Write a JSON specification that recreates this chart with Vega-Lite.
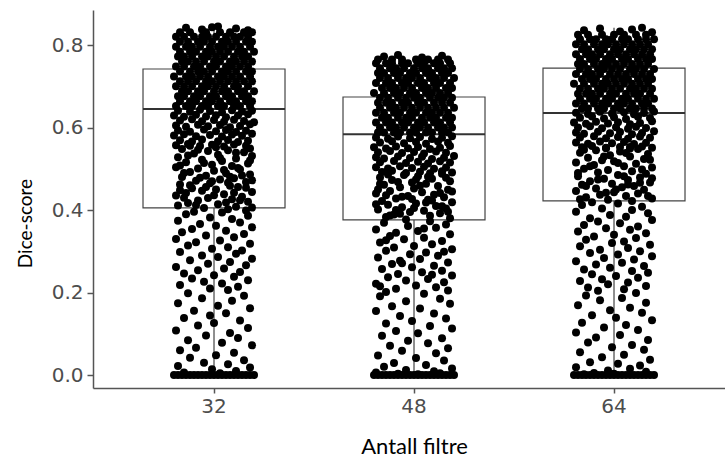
{
"$schema":"https://vega.github.io/schema/vega-lite/v6.json",
"width":632,"height":378,
"autosize":{"type":"none"},
"padding":{"left":93,"top":10,"right":0,"bottom":76},
"background":"white",
"datasets":{
"box":[
{"g":32,"lo":0,"q1":0.405,"med":0.645,"q3":0.742,"hi":0.845},
{"g":48,"lo":0,"q1":0.376,"med":0.584,"q3":0.674,"hi":0.772},
{"g":64,"lo":0,"q1":0.422,"med":0.635,"q3":0.744,"hi":0.842}
],
"pts":[
{"g":32,"y":0.652,"j":-0.19},{"g":32,"y":0.652,"j":-0.14},{"g":32,"y":0.652,"j":-0.11},{"g":32,"y":0.652,"j":-0.06},{"g":32,"y":0.652,"j":-0.03},{"g":32,"y":0.652,"j":0.02},{"g":32,"y":0.652,"j":0.05},{"g":32,"y":0.652,"j":0.10},{"g":32,"y":0.652,"j":0.13},{"g":32,"y":0.652,"j":0.18},
{"g":32,"y":0.664,"j":-0.17},{"g":32,"y":0.664,"j":-0.12},{"g":32,"y":0.664,"j":-0.09},{"g":32,"y":0.664,"j":-0.04},{"g":32,"y":0.664,"j":-0.01},{"g":32,"y":0.664,"j":0.03},{"g":32,"y":0.664,"j":0.08},{"g":32,"y":0.664,"j":0.11},{"g":32,"y":0.664,"j":0.16},{"g":32,"y":0.664,"j":0.19},
{"g":32,"y":0.676,"j":-0.18},{"g":32,"y":0.676,"j":-0.15},{"g":32,"y":0.676,"j":-0.10},{"g":32,"y":0.676,"j":-0.07},{"g":32,"y":0.676,"j":-0.02},{"g":32,"y":0.676,"j":0.01},{"g":32,"y":0.676,"j":0.06},{"g":32,"y":0.676,"j":0.09},{"g":32,"y":0.676,"j":0.14},{"g":32,"y":0.676,"j":0.17},
{"g":32,"y":0.688,"j":-0.16},{"g":32,"y":0.688,"j":-0.13},{"g":32,"y":0.688,"j":-0.08},{"g":32,"y":0.688,"j":-0.05},{"g":32,"y":0.688,"j":0},{"g":32,"y":0.688,"j":0.04},{"g":32,"y":0.688,"j":0.07},{"g":32,"y":0.688,"j":0.12},{"g":32,"y":0.688,"j":0.15},{"g":32,"y":0.688,"j":0.20},
{"g":32,"y":0.700,"j":-0.19},{"g":32,"y":0.700,"j":-0.15},{"g":32,"y":0.700,"j":-0.11},{"g":32,"y":0.700,"j":-0.06},{"g":32,"y":0.700,"j":-0.03},{"g":32,"y":0.700,"j":0.01},{"g":32,"y":0.700,"j":0.05},{"g":32,"y":0.700,"j":0.10},{"g":32,"y":0.700,"j":0.12},{"g":32,"y":0.700,"j":0.17},
{"g":32,"y":0.712,"j":-0.17},{"g":32,"y":0.712,"j":-0.13},{"g":32,"y":0.712,"j":-0.09},{"g":32,"y":0.712,"j":-0.04},{"g":32,"y":0.712,"j":-0.01},{"g":32,"y":0.712,"j":0.03},{"g":32,"y":0.712,"j":0.07},{"g":32,"y":0.712,"j":0.11},{"g":32,"y":0.712,"j":0.15},{"g":32,"y":0.712,"j":0.19},
{"g":32,"y":0.724,"j":-0.20},{"g":32,"y":0.724,"j":-0.14},{"g":32,"y":0.724,"j":-0.11},{"g":32,"y":0.724,"j":-0.07},{"g":32,"y":0.724,"j":-0.03},{"g":32,"y":0.724,"j":0.02},{"g":32,"y":0.724,"j":0.05},{"g":32,"y":0.724,"j":0.09},{"g":32,"y":0.724,"j":0.13},{"g":32,"y":0.724,"j":0.18},
{"g":32,"y":0.736,"j":-0.17},{"g":32,"y":0.736,"j":-0.12},{"g":32,"y":0.736,"j":-0.08},{"g":32,"y":0.736,"j":-0.05},{"g":32,"y":0.736,"j":-0.01},{"g":32,"y":0.736,"j":0.04},{"g":32,"y":0.736,"j":0.07},{"g":32,"y":0.736,"j":0.11},{"g":32,"y":0.736,"j":0.16},{"g":32,"y":0.736,"j":0.19},
{"g":32,"y":0.748,"j":-0.19},{"g":32,"y":0.748,"j":-0.15},{"g":32,"y":0.748,"j":-0.10},{"g":32,"y":0.748,"j":-0.07},{"g":32,"y":0.748,"j":-0.02},{"g":32,"y":0.748,"j":0.01},{"g":32,"y":0.748,"j":0.06},{"g":32,"y":0.748,"j":0.09},{"g":32,"y":0.748,"j":0.13},{"g":32,"y":0.748,"j":0.17},
{"g":32,"y":0.760,"j":-0.16},{"g":32,"y":0.760,"j":-0.13},{"g":32,"y":0.760,"j":-0.09},{"g":32,"y":0.760,"j":-0.05},{"g":32,"y":0.760,"j":0},{"g":32,"y":0.760,"j":0.03},{"g":32,"y":0.760,"j":0.08},{"g":32,"y":0.760,"j":0.11},{"g":32,"y":0.760,"j":0.15},{"g":32,"y":0.760,"j":0.19},
{"g":32,"y":0.772,"j":-0.18},{"g":32,"y":0.772,"j":-0.15},{"g":32,"y":0.772,"j":-0.11},{"g":32,"y":0.772,"j":-0.06},{"g":32,"y":0.772,"j":-0.03},{"g":32,"y":0.772,"j":0.01},{"g":32,"y":0.772,"j":0.05},{"g":32,"y":0.772,"j":0.10},{"g":32,"y":0.772,"j":0.14},{"g":32,"y":0.772,"j":0.17},
{"g":32,"y":0.784,"j":-0.17},{"g":32,"y":0.784,"j":-0.12},{"g":32,"y":0.784,"j":-0.09},{"g":32,"y":0.784,"j":-0.04},{"g":32,"y":0.784,"j":-0.01},{"g":32,"y":0.784,"j":0.03},{"g":32,"y":0.784,"j":0.07},{"g":32,"y":0.784,"j":0.12},{"g":32,"y":0.784,"j":0.15},{"g":32,"y":0.784,"j":0.20},
{"g":32,"y":0.796,"j":-0.19},{"g":32,"y":0.796,"j":-0.14},{"g":32,"y":0.796,"j":-0.11},{"g":32,"y":0.796,"j":-0.07},{"g":32,"y":0.796,"j":-0.02},{"g":32,"y":0.796,"j":0.02},{"g":32,"y":0.796,"j":0.05},{"g":32,"y":0.796,"j":0.09},{"g":32,"y":0.796,"j":0.13},{"g":32,"y":0.796,"j":0.18},
{"g":32,"y":0.808,"j":-0.17},{"g":32,"y":0.808,"j":-0.13},{"g":32,"y":0.808,"j":-0.08},{"g":32,"y":0.808,"j":-0.05},{"g":32,"y":0.808,"j":-0.01},{"g":32,"y":0.808,"j":0.04},{"g":32,"y":0.808,"j":0.07},{"g":32,"y":0.808,"j":0.11},{"g":32,"y":0.808,"j":0.16},{"g":32,"y":0.808,"j":0.19},
{"g":32,"y":0.820,"j":-0.19},{"g":32,"y":0.820,"j":-0.15},{"g":32,"y":0.820,"j":-0.10},{"g":32,"y":0.820,"j":-0.06},{"g":32,"y":0.820,"j":-0.03},{"g":32,"y":0.820,"j":0.01},{"g":32,"y":0.820,"j":0.06},{"g":32,"y":0.820,"j":0.10},{"g":32,"y":0.820,"j":0.13},{"g":32,"y":0.820,"j":0.17},
{"g":32,"y":0.831,"j":-0.17},{"g":32,"y":0.831,"j":-0.12},{"g":32,"y":0.831,"j":-0.04},{"g":32,"y":0.831,"j":0.03},{"g":32,"y":0.831,"j":0.08},{"g":32,"y":0.831,"j":0.15},{"g":32,"y":0.831,"j":0.19},
{"g":32,"y":0.842,"j":-0.14},{"g":32,"y":0.838,"j":-0.06},{"g":32,"y":0.845,"j":0.02},{"g":32,"y":0.840,"j":0.11},{"g":32,"y":0.836,"j":0.17},{"g":32,"y":0.843,"j":-0.01},
{"g":32,"y":0.641,"j":-0.18},{"g":32,"y":0.638,"j":-0.12},{"g":32,"y":0.643,"j":-0.07},{"g":32,"y":0.640,"j":-0.02},{"g":32,"y":0.637,"j":0.04},{"g":32,"y":0.642,"j":0.09},{"g":32,"y":0.639,"j":0.14},{"g":32,"y":0.641,"j":0.19},
{"g":32,"y":0.629,"j":-0.20},{"g":32,"y":0.626,"j":-0.15},{"g":32,"y":0.631,"j":-0.09},{"g":32,"y":0.627,"j":-0.04},{"g":32,"y":0.630,"j":0.01},{"g":32,"y":0.625,"j":0.06},{"g":32,"y":0.629,"j":0.12},{"g":32,"y":0.632,"j":0.17},
{"g":32,"y":0.617,"j":-0.17},{"g":32,"y":0.620,"j":-0.11},{"g":32,"y":0.615,"j":-0.06},{"g":32,"y":0.618,"j":0},{"g":32,"y":0.614,"j":0.05},{"g":32,"y":0.619,"j":0.10},{"g":32,"y":0.616,"j":0.15},{"g":32,"y":0.613,"j":0.20},
{"g":32,"y":0.605,"j":-0.19},{"g":32,"y":0.602,"j":-0.14},{"g":32,"y":0.607,"j":-0.08},{"g":32,"y":0.603,"j":-0.03},{"g":32,"y":0.606,"j":0.03},{"g":32,"y":0.601,"j":0.08},{"g":32,"y":0.604,"j":0.13},{"g":32,"y":0.608,"j":0.18},
{"g":32,"y":0.593,"j":-0.18},{"g":32,"y":0.590,"j":-0.12},{"g":32,"y":0.595,"j":-0.05},{"g":32,"y":0.591,"j":0.01},{"g":32,"y":0.594,"j":0.06},{"g":32,"y":0.589,"j":0.11},{"g":32,"y":0.592,"j":0.16},
{"g":32,"y":0.581,"j":-0.20},{"g":32,"y":0.584,"j":-0.15},{"g":32,"y":0.579,"j":-0.09},{"g":32,"y":0.582,"j":-0.02},{"g":32,"y":0.578,"j":0.04},{"g":32,"y":0.583,"j":0.09},{"g":32,"y":0.580,"j":0.14},{"g":32,"y":0.585,"j":0.19},
{"g":32,"y":0.569,"j":-0.17},{"g":32,"y":0.566,"j":-0.11},{"g":32,"y":0.571,"j":-0.06},{"g":32,"y":0.567,"j":0.02},{"g":32,"y":0.570,"j":0.07},{"g":32,"y":0.565,"j":0.12},{"g":32,"y":0.568,"j":0.17},
{"g":32,"y":0.557,"j":-0.19},{"g":32,"y":0.560,"j":-0.13},{"g":32,"y":0.555,"j":-0.07},{"g":32,"y":0.558,"j":-0.01},{"g":32,"y":0.554,"j":0.05},{"g":32,"y":0.559,"j":0.10},{"g":32,"y":0.556,"j":0.16},
{"g":32,"y":0.548,"j":-0.16},{"g":32,"y":0.545,"j":0.07},{"g":32,"y":0.543,"j":-0.03},{"g":32,"y":0.540,"j":0.15},{"g":32,"y":0.537,"j":-0.10},{"g":32,"y":0.534,"j":0.02},{"g":32,"y":0.531,"j":0.19},{"g":32,"y":0.528,"j":-0.18},{"g":32,"y":0.525,"j":0.11},{"g":32,"y":0.522,"j":-0.06},
{"g":32,"y":0.519,"j":0.04},{"g":32,"y":0.516,"j":-0.14},{"g":32,"y":0.513,"j":0.17},{"g":32,"y":0.510,"j":-0.01},{"g":32,"y":0.507,"j":0.09},{"g":32,"y":0.504,"j":-0.19},{"g":32,"y":0.501,"j":-0.08},{"g":32,"y":0.498,"j":0.13},{"g":32,"y":0.495,"j":0},{"g":32,"y":0.492,"j":-0.12},
{"g":32,"y":0.489,"j":0.06},{"g":32,"y":0.486,"j":0.18},{"g":32,"y":0.483,"j":-0.04},{"g":32,"y":0.480,"j":-0.16},{"g":32,"y":0.477,"j":0.10},{"g":32,"y":0.474,"j":0.03},{"g":32,"y":0.471,"j":-0.09},{"g":32,"y":0.468,"j":0.16},{"g":32,"y":0.465,"j":-0.02},{"g":32,"y":0.462,"j":-0.17},
{"g":32,"y":0.459,"j":0.08},{"g":32,"y":0.456,"j":0.12},{"g":32,"y":0.453,"j":-0.11},{"g":32,"y":0.450,"j":0.01},{"g":32,"y":0.447,"j":-0.06},{"g":32,"y":0.444,"j":0.19},{"g":32,"y":0.441,"j":-0.14},{"g":32,"y":0.438,"j":0.05},{"g":32,"y":0.435,"j":-0.19},{"g":32,"y":0.432,"j":0.14},
{"g":32,"y":0.429,"j":-0.03},{"g":32,"y":0.426,"j":0.09},{"g":32,"y":0.423,"j":-0.08},{"g":32,"y":0.420,"j":0.17},{"g":32,"y":0.417,"j":-0.13},{"g":32,"y":0.414,"j":0.02},{"g":32,"y":0.411,"j":-0.18},{"g":32,"y":0.408,"j":0.11},{"g":32,"y":0.405,"j":-0.05},{"g":32,"y":0.402,"j":0.07},
{"g":32,"y":0.399,"j":0.16},{"g":32,"y":0.396,"j":-0.10},
{"g":32,"y":0.546,"j":-0.08},{"g":32,"y":0.539,"j":0.11},{"g":32,"y":0.532,"j":-0.13},{"g":32,"y":0.526,"j":0.03},{"g":32,"y":0.520,"j":0.18},{"g":32,"y":0.514,"j":-0.05},{"g":32,"y":0.508,"j":-0.17},{"g":32,"y":0.502,"j":0.12},{"g":32,"y":0.497,"j":0.05},{"g":32,"y":0.490,"j":-0.15},
{"g":32,"y":0.484,"j":0.14},{"g":32,"y":0.478,"j":-0.07},{"g":32,"y":0.472,"j":0.19},{"g":32,"y":0.466,"j":0.07},{"g":32,"y":0.460,"j":-0.12},{"g":32,"y":0.454,"j":0.16},{"g":32,"y":0.448,"j":-0.17},{"g":32,"y":0.442,"j":0.10},{"g":32,"y":0.436,"j":0},{"g":32,"y":0.430,"j":-0.15},
{"g":32,"y":0.424,"j":0.13},{"g":32,"y":0.418,"j":0.06},{"g":32,"y":0.412,"j":-0.09},{"g":32,"y":0.406,"j":0.19},{"g":32,"y":0.552,"j":0.01},{"g":32,"y":0.556,"j":-0.12},{"g":32,"y":0.549,"j":0.18},{"g":32,"y":0.470,"j":-0.01},{"g":32,"y":0.481,"j":0.08},{"g":32,"y":0.456,"j":-0.04},
{"g":32,"y":0.394,"j":0.04},{"g":32,"y":0.390,"j":-0.14},{"g":32,"y":0.386,"j":0.17},{"g":32,"y":0.382,"j":-0.02},{"g":32,"y":0.378,"j":0.09},{"g":32,"y":0.374,"j":-0.18},{"g":32,"y":0.370,"j":0.13},{"g":32,"y":0.366,"j":-0.07},{"g":32,"y":0.362,"j":0.01},{"g":32,"y":0.358,"j":0.19},
{"g":32,"y":0.354,"j":-0.11},{"g":32,"y":0.350,"j":0.06},{"g":32,"y":0.346,"j":-0.16},{"g":32,"y":0.342,"j":0.15},{"g":32,"y":0.338,"j":-0.04},{"g":32,"y":0.334,"j":0.10},{"g":32,"y":0.330,"j":-0.19},{"g":32,"y":0.326,"j":0.03},{"g":32,"y":0.322,"j":-0.09},{"g":32,"y":0.318,"j":0.18},
{"g":32,"y":0.314,"j":-0.13},{"g":32,"y":0.310,"j":0.07},{"g":32,"y":0.306,"j":-0.01},{"g":32,"y":0.302,"j":0.14},{"g":32,"y":0.298,"j":-0.17},{"g":32,"y":0.294,"j":0.11},{"g":32,"y":0.290,"j":-0.06},{"g":32,"y":0.286,"j":0.02},{"g":32,"y":0.282,"j":0.19},{"g":32,"y":0.278,"j":-0.12},
{"g":32,"y":0.274,"j":0.08},{"g":32,"y":0.270,"j":-0.03},{"g":32,"y":0.266,"j":0.16},{"g":32,"y":0.262,"j":-0.19},{"g":32,"y":0.258,"j":0.05},{"g":32,"y":0.254,"j":-0.08},{"g":32,"y":0.250,"j":0.13},{"g":32,"y":0.246,"j":-0.15},{"g":32,"y":0.242,"j":0},{"g":32,"y":0.238,"j":0.10},
{"g":32,"y":0.234,"j":-0.11},{"g":32,"y":0.230,"j":0.17},{"g":32,"y":0.226,"j":-0.05},{"g":32,"y":0.222,"j":0.04},{"g":32,"y":0.218,"j":-0.17},{"g":32,"y":0.214,"j":0.12},{"g":32,"y":0.210,"j":-0.02},{"g":32,"y":0.206,"j":0.07},
{"g":32,"y":0.198,"j":-0.13},{"g":32,"y":0.192,"j":0.15},{"g":32,"y":0.186,"j":-0.06},{"g":32,"y":0.180,"j":0.09},{"g":32,"y":0.174,"j":-0.18},{"g":32,"y":0.168,"j":0.02},{"g":32,"y":0.162,"j":0.18},{"g":32,"y":0.156,"j":-0.10},{"g":32,"y":0.150,"j":0.06},{"g":32,"y":0.144,"j":-0.02},
{"g":32,"y":0.138,"j":-0.15},{"g":32,"y":0.132,"j":0.13},{"g":32,"y":0.126,"j":0},{"g":32,"y":0.120,"j":-0.08},{"g":32,"y":0.114,"j":0.17},{"g":32,"y":0.108,"j":-0.19},{"g":32,"y":0.102,"j":0.08},{"g":32,"y":0.096,"j":-0.04},{"g":32,"y":0.090,"j":0.12},{"g":32,"y":0.084,"j":-0.13},
{"g":32,"y":0.078,"j":0.04},{"g":32,"y":0.072,"j":0.19},{"g":32,"y":0.066,"j":-0.09},{"g":32,"y":0.060,"j":-0.17},{"g":32,"y":0.054,"j":0.10},{"g":32,"y":0.048,"j":0.01},{"g":32,"y":0.042,"j":-0.12},{"g":32,"y":0.036,"j":0.15},{"g":32,"y":0.030,"j":-0.05},{"g":32,"y":0.026,"j":0.07},
{"g":32,"y":0.022,"j":-0.18},{"g":32,"y":0.018,"j":0.18},{"g":32,"y":0.014,"j":-0.01},{"g":32,"y":0.010,"j":0.11},{"g":32,"y":0.006,"j":-0.15},{"g":32,"y":0.004,"j":0.03},
{"g":32,"y":0,"j":-0.20},{"g":32,"y":0,"j":-0.18},{"g":32,"y":0,"j":-0.16},{"g":32,"y":0,"j":-0.14},{"g":32,"y":0,"j":-0.12},{"g":32,"y":0,"j":-0.10},{"g":32,"y":0,"j":-0.08},{"g":32,"y":0,"j":-0.06},{"g":32,"y":0,"j":-0.04},{"g":32,"y":0,"j":-0.02},{"g":32,"y":0,"j":0},
{"g":32,"y":0,"j":0.02},{"g":32,"y":0,"j":0.04},{"g":32,"y":0,"j":0.06},{"g":32,"y":0,"j":0.08},{"g":32,"y":0,"j":0.10},{"g":32,"y":0,"j":0.12},{"g":32,"y":0,"j":0.14},{"g":32,"y":0,"j":0.16},{"g":32,"y":0,"j":0.18},{"g":32,"y":0,"j":0.20},

{"g":48,"y":0.588,"j":-0.18},{"g":48,"y":0.588,"j":-0.15},{"g":48,"y":0.588,"j":-0.10},{"g":48,"y":0.588,"j":-0.07},{"g":48,"y":0.588,"j":-0.02},{"g":48,"y":0.588,"j":0.01},{"g":48,"y":0.588,"j":0.06},{"g":48,"y":0.588,"j":0.09},{"g":48,"y":0.588,"j":0.14},{"g":48,"y":0.588,"j":0.17},
{"g":48,"y":0.600,"j":-0.17},{"g":48,"y":0.600,"j":-0.12},{"g":48,"y":0.600,"j":-0.09},{"g":48,"y":0.600,"j":-0.05},{"g":48,"y":0.600,"j":0},{"g":48,"y":0.600,"j":0.03},{"g":48,"y":0.600,"j":0.07},{"g":48,"y":0.600,"j":0.12},{"g":48,"y":0.600,"j":0.15},{"g":48,"y":0.600,"j":0.19},
{"g":48,"y":0.612,"j":-0.19},{"g":48,"y":0.612,"j":-0.14},{"g":48,"y":0.612,"j":-0.11},{"g":48,"y":0.612,"j":-0.06},{"g":48,"y":0.612,"j":-0.03},{"g":48,"y":0.612,"j":0.02},{"g":48,"y":0.612,"j":0.05},{"g":48,"y":0.612,"j":0.10},{"g":48,"y":0.612,"j":0.13},{"g":48,"y":0.612,"j":0.18},
{"g":48,"y":0.624,"j":-0.16},{"g":48,"y":0.624,"j":-0.13},{"g":48,"y":0.624,"j":-0.08},{"g":48,"y":0.624,"j":-0.04},{"g":48,"y":0.624,"j":-0.01},{"g":48,"y":0.624,"j":0.04},{"g":48,"y":0.624,"j":0.08},{"g":48,"y":0.624,"j":0.11},{"g":48,"y":0.624,"j":0.16},{"g":48,"y":0.624,"j":0.19},
{"g":48,"y":0.636,"j":-0.19},{"g":48,"y":0.636,"j":-0.15},{"g":48,"y":0.636,"j":-0.10},{"g":48,"y":0.636,"j":-0.07},{"g":48,"y":0.636,"j":-0.02},{"g":48,"y":0.636,"j":0.01},{"g":48,"y":0.636,"j":0.06},{"g":48,"y":0.636,"j":0.09},{"g":48,"y":0.636,"j":0.13},{"g":48,"y":0.636,"j":0.17},
{"g":48,"y":0.648,"j":-0.17},{"g":48,"y":0.648,"j":-0.12},{"g":48,"y":0.648,"j":-0.09},{"g":48,"y":0.648,"j":-0.05},{"g":48,"y":0.648,"j":-0.01},{"g":48,"y":0.648,"j":0.03},{"g":48,"y":0.648,"j":0.07},{"g":48,"y":0.648,"j":0.11},{"g":48,"y":0.648,"j":0.15},{"g":48,"y":0.648,"j":0.20},
{"g":48,"y":0.660,"j":-0.18},{"g":48,"y":0.660,"j":-0.14},{"g":48,"y":0.660,"j":-0.11},{"g":48,"y":0.660,"j":-0.06},{"g":48,"y":0.660,"j":-0.03},{"g":48,"y":0.660,"j":0.02},{"g":48,"y":0.660,"j":0.05},{"g":48,"y":0.660,"j":0.10},{"g":48,"y":0.660,"j":0.14},{"g":48,"y":0.660,"j":0.18},
{"g":48,"y":0.672,"j":-0.17},{"g":48,"y":0.672,"j":-0.13},{"g":48,"y":0.672,"j":-0.08},{"g":48,"y":0.672,"j":-0.04},{"g":48,"y":0.672,"j":0},{"g":48,"y":0.672,"j":0.03},{"g":48,"y":0.672,"j":0.08},{"g":48,"y":0.672,"j":0.12},{"g":48,"y":0.672,"j":0.15},{"g":48,"y":0.672,"j":0.19},
{"g":48,"y":0.684,"j":-0.20},{"g":48,"y":0.684,"j":-0.15},{"g":48,"y":0.684,"j":-0.10},{"g":48,"y":0.684,"j":-0.07},{"g":48,"y":0.684,"j":-0.02},{"g":48,"y":0.684,"j":0.01},{"g":48,"y":0.684,"j":0.06},{"g":48,"y":0.684,"j":0.09},{"g":48,"y":0.684,"j":0.13},{"g":48,"y":0.684,"j":0.17},
{"g":48,"y":0.696,"j":-0.16},{"g":48,"y":0.696,"j":-0.12},{"g":48,"y":0.696,"j":-0.09},{"g":48,"y":0.696,"j":-0.05},{"g":48,"y":0.696,"j":-0.01},{"g":48,"y":0.696,"j":0.04},{"g":48,"y":0.696,"j":0.07},{"g":48,"y":0.696,"j":0.11},{"g":48,"y":0.696,"j":0.16},{"g":48,"y":0.696,"j":0.19},
{"g":48,"y":0.708,"j":-0.19},{"g":48,"y":0.708,"j":-0.14},{"g":48,"y":0.708,"j":-0.11},{"g":48,"y":0.708,"j":-0.06},{"g":48,"y":0.708,"j":-0.03},{"g":48,"y":0.708,"j":0.02},{"g":48,"y":0.708,"j":0.05},{"g":48,"y":0.708,"j":0.10},{"g":48,"y":0.708,"j":0.13},{"g":48,"y":0.708,"j":0.18},
{"g":48,"y":0.720,"j":-0.17},{"g":48,"y":0.720,"j":-0.13},{"g":48,"y":0.720,"j":-0.08},{"g":48,"y":0.720,"j":-0.04},{"g":48,"y":0.720,"j":-0.01},{"g":48,"y":0.720,"j":0.03},{"g":48,"y":0.720,"j":0.08},{"g":48,"y":0.720,"j":0.11},{"g":48,"y":0.720,"j":0.15},{"g":48,"y":0.720,"j":0.20},
{"g":48,"y":0.732,"j":-0.18},{"g":48,"y":0.732,"j":-0.15},{"g":48,"y":0.732,"j":-0.10},{"g":48,"y":0.732,"j":-0.07},{"g":48,"y":0.732,"j":-0.02},{"g":48,"y":0.732,"j":0.01},{"g":48,"y":0.732,"j":0.06},{"g":48,"y":0.732,"j":0.09},{"g":48,"y":0.732,"j":0.14},{"g":48,"y":0.732,"j":0.17},
{"g":48,"y":0.744,"j":-0.17},{"g":48,"y":0.744,"j":-0.12},{"g":48,"y":0.744,"j":-0.09},{"g":48,"y":0.744,"j":-0.05},{"g":48,"y":0.744,"j":0},{"g":48,"y":0.744,"j":0.04},{"g":48,"y":0.744,"j":0.07},{"g":48,"y":0.744,"j":0.12},{"g":48,"y":0.744,"j":0.15},{"g":48,"y":0.744,"j":0.19},
{"g":48,"y":0.756,"j":-0.19},{"g":48,"y":0.756,"j":-0.14},{"g":48,"y":0.756,"j":-0.11},{"g":48,"y":0.756,"j":-0.06},{"g":48,"y":0.756,"j":-0.03},{"g":48,"y":0.756,"j":0.02},{"g":48,"y":0.756,"j":0.05},{"g":48,"y":0.756,"j":0.10},{"g":48,"y":0.756,"j":0.13},{"g":48,"y":0.756,"j":0.18},
{"g":48,"y":0.765,"j":-0.18},{"g":48,"y":0.765,"j":-0.11},{"g":48,"y":0.765,"j":-0.06},{"g":48,"y":0.765,"j":0.01},{"g":48,"y":0.765,"j":0.07},{"g":48,"y":0.765,"j":0.12},{"g":48,"y":0.765,"j":0.17},
{"g":48,"y":0.772,"j":-0.15},{"g":48,"y":0.776,"j":-0.08},{"g":48,"y":0.770,"j":0.04},{"g":48,"y":0.774,"j":0.14},
{"g":48,"y":0.576,"j":-0.19},{"g":48,"y":0.573,"j":-0.13},{"g":48,"y":0.578,"j":-0.08},{"g":48,"y":0.574,"j":-0.02},{"g":48,"y":0.577,"j":0.03},{"g":48,"y":0.572,"j":0.09},{"g":48,"y":0.575,"j":0.14},{"g":48,"y":0.579,"j":0.19},
{"g":48,"y":0.564,"j":-0.17},{"g":48,"y":0.567,"j":-0.11},{"g":48,"y":0.562,"j":-0.05},{"g":48,"y":0.565,"j":0.01},{"g":48,"y":0.561,"j":0.06},{"g":48,"y":0.566,"j":0.12},{"g":48,"y":0.563,"j":0.17},
{"g":48,"y":0.552,"j":-0.20},{"g":48,"y":0.549,"j":-0.14},{"g":48,"y":0.554,"j":-0.09},{"g":48,"y":0.550,"j":-0.03},{"g":48,"y":0.553,"j":0.02},{"g":48,"y":0.548,"j":0.08},{"g":48,"y":0.551,"j":0.13},{"g":48,"y":0.555,"j":0.18},
{"g":48,"y":0.540,"j":-0.18},{"g":48,"y":0.543,"j":-0.12},{"g":48,"y":0.538,"j":-0.06},{"g":48,"y":0.541,"j":0},{"g":48,"y":0.537,"j":0.05},{"g":48,"y":0.542,"j":0.11},{"g":48,"y":0.539,"j":0.16},
{"g":48,"y":0.528,"j":-0.19},{"g":48,"y":0.525,"j":-0.15},{"g":48,"y":0.530,"j":-0.08},{"g":48,"y":0.526,"j":-0.02},{"g":48,"y":0.529,"j":0.04},{"g":48,"y":0.524,"j":0.09},{"g":48,"y":0.527,"j":0.15},{"g":48,"y":0.531,"j":0.20},
{"g":48,"y":0.516,"j":-0.17},{"g":48,"y":0.519,"j":-0.10},{"g":48,"y":0.514,"j":-0.04},{"g":48,"y":0.517,"j":0.02},{"g":48,"y":0.513,"j":0.07},{"g":48,"y":0.518,"j":0.13},{"g":48,"y":0.515,"j":0.18},
{"g":48,"y":0.504,"j":-0.19},{"g":48,"y":0.501,"j":-0.13},{"g":48,"y":0.506,"j":-0.07},{"g":48,"y":0.502,"j":-0.01},{"g":48,"y":0.505,"j":0.05},{"g":48,"y":0.500,"j":0.10},{"g":48,"y":0.503,"j":0.16},
{"g":48,"y":0.492,"j":-0.16},{"g":48,"y":0.495,"j":-0.11},{"g":48,"y":0.490,"j":-0.04},{"g":48,"y":0.493,"j":0.03},{"g":48,"y":0.489,"j":0.08},{"g":48,"y":0.494,"j":0.14},{"g":48,"y":0.491,"j":0.19},
{"g":48,"y":0.488,"j":0.14},{"g":48,"y":0.485,"j":-0.05},{"g":48,"y":0.482,"j":0.02},{"g":48,"y":0.479,"j":-0.17},{"g":48,"y":0.476,"j":0.09},{"g":48,"y":0.473,"j":-0.11},{"g":48,"y":0.470,"j":0.18},{"g":48,"y":0.467,"j":-0.01},{"g":48,"y":0.464,"j":0.06},{"g":48,"y":0.461,"j":-0.15},
{"g":48,"y":0.458,"j":0.12},{"g":48,"y":0.455,"j":-0.07},{"g":48,"y":0.452,"j":0},{"g":48,"y":0.449,"j":0.17},{"g":48,"y":0.446,"j":-0.12},{"g":48,"y":0.443,"j":0.04},{"g":48,"y":0.440,"j":-0.19},{"g":48,"y":0.437,"j":0.10},{"g":48,"y":0.434,"j":-0.03},{"g":48,"y":0.431,"j":0.15},
{"g":48,"y":0.428,"j":-0.09},{"g":48,"y":0.425,"j":0.07},{"g":48,"y":0.422,"j":-0.16},{"g":48,"y":0.419,"j":0.19},{"g":48,"y":0.416,"j":0.01},{"g":48,"y":0.413,"j":-0.13},{"g":48,"y":0.410,"j":0.11},{"g":48,"y":0.407,"j":-0.06},{"g":48,"y":0.404,"j":0.16},{"g":48,"y":0.401,"j":-0.18},
{"g":48,"y":0.398,"j":0.05},{"g":48,"y":0.395,"j":-0.02},{"g":48,"y":0.392,"j":0.13},{"g":48,"y":0.389,"j":-0.10},{"g":48,"y":0.386,"j":0.08},{"g":48,"y":0.383,"j":-0.14},{"g":48,"y":0.380,"j":0.18},{"g":48,"y":0.377,"j":-0.04},{"g":48,"y":0.486,"j":-0.13},{"g":48,"y":0.478,"j":0.16},
{"g":48,"y":0.468,"j":-0.08},{"g":48,"y":0.459,"j":0.03},{"g":48,"y":0.450,"j":-0.18},{"g":48,"y":0.441,"j":0.13},{"g":48,"y":0.432,"j":-0.06},{"g":48,"y":0.423,"j":0.09},{"g":48,"y":0.414,"j":-0.19},{"g":48,"y":0.405,"j":0},{"g":48,"y":0.396,"j":0.17},{"g":48,"y":0.387,"j":-0.12},
{"g":48,"y":0.481,"j":0.07},{"g":48,"y":0.463,"j":-0.17},{"g":48,"y":0.445,"j":0.19},{"g":48,"y":0.427,"j":-0.01},{"g":48,"y":0.409,"j":0.14},{"g":48,"y":0.391,"j":-0.07},{"g":48,"y":0.474,"j":0.01},{"g":48,"y":0.436,"j":-0.14},{"g":48,"y":0.418,"j":0.06},{"g":48,"y":0.400,"j":-0.09},
{"g":48,"y":0.373,"j":0.08},{"g":48,"y":0.369,"j":-0.15},{"g":48,"y":0.365,"j":0.16},{"g":48,"y":0.361,"j":-0.03},{"g":48,"y":0.357,"j":0.11},{"g":48,"y":0.353,"j":-0.19},{"g":48,"y":0.349,"j":0.02},{"g":48,"y":0.345,"j":-0.09},{"g":48,"y":0.341,"j":0.18},{"g":48,"y":0.337,"j":-0.12},
{"g":48,"y":0.333,"j":0.05},{"g":48,"y":0.329,"j":-0.05},{"g":48,"y":0.325,"j":0.14},{"g":48,"y":0.321,"j":-0.17},{"g":48,"y":0.317,"j":0.09},{"g":48,"y":0.313,"j":0},{"g":48,"y":0.309,"j":-0.10},{"g":48,"y":0.305,"j":0.19},{"g":48,"y":0.301,"j":-0.14},{"g":48,"y":0.297,"j":0.06},
{"g":48,"y":0.293,"j":-0.02},{"g":48,"y":0.289,"j":0.12},{"g":48,"y":0.285,"j":-0.18},{"g":48,"y":0.281,"j":0.03},{"g":48,"y":0.277,"j":-0.07},{"g":48,"y":0.273,"j":0.17},{"g":48,"y":0.269,"j":-0.11},{"g":48,"y":0.265,"j":0.10},{"g":48,"y":0.261,"j":-0.01},{"g":48,"y":0.257,"j":-0.16},
{"g":48,"y":0.253,"j":0.14},{"g":48,"y":0.249,"j":0.04},{"g":48,"y":0.245,"j":-0.08},{"g":48,"y":0.241,"j":0.19},{"g":48,"y":0.237,"j":-0.13},{"g":48,"y":0.233,"j":0.07},{"g":48,"y":0.229,"j":-0.04},{"g":48,"y":0.225,"j":0.15},{"g":48,"y":0.221,"j":-0.19},{"g":48,"y":0.217,"j":0.01},
{"g":48,"y":0.213,"j":0.11},{"g":48,"y":0.209,"j":-0.09},{"g":48,"y":0.205,"j":0.17},{"g":48,"y":0.201,"j":-0.14},{"g":48,"y":0.355,"j":0.05},{"g":48,"y":0.327,"j":-0.14},{"g":48,"y":0.299,"j":0.15},{"g":48,"y":0.271,"j":-0.06},{"g":48,"y":0.243,"j":0.09},{"g":48,"y":0.215,"j":-0.17},
{"g":48,"y":0.197,"j":0.05},{"g":48,"y":0.191,"j":-0.17},{"g":48,"y":0.185,"j":0.13},{"g":48,"y":0.179,"j":-0.04},{"g":48,"y":0.173,"j":0.18},{"g":48,"y":0.167,"j":-0.11},{"g":48,"y":0.161,"j":0.03},{"g":48,"y":0.155,"j":-0.19},{"g":48,"y":0.149,"j":0.10},{"g":48,"y":0.143,"j":-0.07},
{"g":48,"y":0.137,"j":0.16},{"g":48,"y":0.131,"j":-0.01},{"g":48,"y":0.125,"j":-0.14},{"g":48,"y":0.119,"j":0.08},{"g":48,"y":0.113,"j":0.19},{"g":48,"y":0.107,"j":-0.09},{"g":48,"y":0.101,"j":0.02},{"g":48,"y":0.095,"j":-0.16},{"g":48,"y":0.089,"j":0.14},{"g":48,"y":0.083,"j":-0.03},
{"g":48,"y":0.077,"j":0.07},{"g":48,"y":0.071,"j":-0.12},{"g":48,"y":0.065,"j":0.17},{"g":48,"y":0.059,"j":-0.06},{"g":48,"y":0.053,"j":0.11},{"g":48,"y":0.047,"j":-0.18},{"g":48,"y":0.041,"j":0.01},{"g":48,"y":0.035,"j":0.15},{"g":48,"y":0.029,"j":-0.10},{"g":48,"y":0.024,"j":0.06},
{"g":48,"y":0.020,"j":-0.15},{"g":48,"y":0.016,"j":0.19},{"g":48,"y":0.012,"j":-0.04},{"g":48,"y":0.009,"j":0.10},{"g":48,"y":0.006,"j":-0.19},{"g":48,"y":0.004,"j":0.13},{"g":48,"y":0.003,"j":-0.08},{"g":48,"y":0.002,"j":0.02},
{"g":48,"y":0,"j":-0.20},{"g":48,"y":0,"j":-0.18},{"g":48,"y":0,"j":-0.16},{"g":48,"y":0,"j":-0.14},{"g":48,"y":0,"j":-0.12},{"g":48,"y":0,"j":-0.10},{"g":48,"y":0,"j":-0.08},{"g":48,"y":0,"j":-0.06},{"g":48,"y":0,"j":-0.04},{"g":48,"y":0,"j":-0.02},{"g":48,"y":0,"j":0},
{"g":48,"y":0,"j":0.02},{"g":48,"y":0,"j":0.04},{"g":48,"y":0,"j":0.06},{"g":48,"y":0,"j":0.08},{"g":48,"y":0,"j":0.10},{"g":48,"y":0,"j":0.12},{"g":48,"y":0,"j":0.14},{"g":48,"y":0,"j":0.16},{"g":48,"y":0,"j":0.18},{"g":48,"y":0,"j":0.20},

{"g":64,"y":0.646,"j":-0.16},{"g":64,"y":0.646,"j":-0.13},{"g":64,"y":0.646,"j":-0.08},{"g":64,"y":0.646,"j":-0.05},{"g":64,"y":0.646,"j":0},{"g":64,"y":0.646,"j":0.03},{"g":64,"y":0.646,"j":0.08},{"g":64,"y":0.646,"j":0.11},{"g":64,"y":0.646,"j":0.15},{"g":64,"y":0.646,"j":0.19},
{"g":64,"y":0.658,"j":-0.19},{"g":64,"y":0.658,"j":-0.15},{"g":64,"y":0.658,"j":-0.10},{"g":64,"y":0.658,"j":-0.06},{"g":64,"y":0.658,"j":-0.03},{"g":64,"y":0.658,"j":0.02},{"g":64,"y":0.658,"j":0.05},{"g":64,"y":0.658,"j":0.09},{"g":64,"y":0.658,"j":0.14},{"g":64,"y":0.658,"j":0.17},
{"g":64,"y":0.670,"j":-0.17},{"g":64,"y":0.670,"j":-0.12},{"g":64,"y":0.670,"j":-0.09},{"g":64,"y":0.670,"j":-0.04},{"g":64,"y":0.670,"j":-0.01},{"g":64,"y":0.670,"j":0.04},{"g":64,"y":0.670,"j":0.07},{"g":64,"y":0.670,"j":0.12},{"g":64,"y":0.670,"j":0.16},{"g":64,"y":0.670,"j":0.20},
{"g":64,"y":0.682,"j":-0.18},{"g":64,"y":0.682,"j":-0.14},{"g":64,"y":0.682,"j":-0.11},{"g":64,"y":0.682,"j":-0.07},{"g":64,"y":0.682,"j":-0.02},{"g":64,"y":0.682,"j":0.01},{"g":64,"y":0.682,"j":0.06},{"g":64,"y":0.682,"j":0.10},{"g":64,"y":0.682,"j":0.13},{"g":64,"y":0.682,"j":0.18},
{"g":64,"y":0.694,"j":-0.17},{"g":64,"y":0.694,"j":-0.13},{"g":64,"y":0.694,"j":-0.08},{"g":64,"y":0.694,"j":-0.05},{"g":64,"y":0.694,"j":-0.01},{"g":64,"y":0.694,"j":0.03},{"g":64,"y":0.694,"j":0.08},{"g":64,"y":0.694,"j":0.11},{"g":64,"y":0.694,"j":0.15},{"g":64,"y":0.694,"j":0.19},
{"g":64,"y":0.706,"j":-0.20},{"g":64,"y":0.706,"j":-0.15},{"g":64,"y":0.706,"j":-0.10},{"g":64,"y":0.706,"j":-0.06},{"g":64,"y":0.706,"j":-0.03},{"g":64,"y":0.706,"j":0.01},{"g":64,"y":0.706,"j":0.05},{"g":64,"y":0.706,"j":0.09},{"g":64,"y":0.706,"j":0.13},{"g":64,"y":0.706,"j":0.17},
{"g":64,"y":0.718,"j":-0.16},{"g":64,"y":0.718,"j":-0.12},{"g":64,"y":0.718,"j":-0.09},{"g":64,"y":0.718,"j":-0.04},{"g":64,"y":0.718,"j":0},{"g":64,"y":0.718,"j":0.04},{"g":64,"y":0.718,"j":0.07},{"g":64,"y":0.718,"j":0.12},{"g":64,"y":0.718,"j":0.16},{"g":64,"y":0.718,"j":0.19},
{"g":64,"y":0.730,"j":-0.19},{"g":64,"y":0.730,"j":-0.14},{"g":64,"y":0.730,"j":-0.11},{"g":64,"y":0.730,"j":-0.07},{"g":64,"y":0.730,"j":-0.02},{"g":64,"y":0.730,"j":0.02},{"g":64,"y":0.730,"j":0.06},{"g":64,"y":0.730,"j":0.10},{"g":64,"y":0.730,"j":0.14},{"g":64,"y":0.730,"j":0.18},
{"g":64,"y":0.742,"j":-0.17},{"g":64,"y":0.742,"j":-0.13},{"g":64,"y":0.742,"j":-0.08},{"g":64,"y":0.742,"j":-0.05},{"g":64,"y":0.742,"j":-0.01},{"g":64,"y":0.742,"j":0.03},{"g":64,"y":0.742,"j":0.08},{"g":64,"y":0.742,"j":0.11},{"g":64,"y":0.742,"j":0.15},{"g":64,"y":0.742,"j":0.20},
{"g":64,"y":0.754,"j":-0.18},{"g":64,"y":0.754,"j":-0.15},{"g":64,"y":0.754,"j":-0.10},{"g":64,"y":0.754,"j":-0.06},{"g":64,"y":0.754,"j":-0.03},{"g":64,"y":0.754,"j":0.01},{"g":64,"y":0.754,"j":0.05},{"g":64,"y":0.754,"j":0.09},{"g":64,"y":0.754,"j":0.13},{"g":64,"y":0.754,"j":0.17},
{"g":64,"y":0.766,"j":-0.17},{"g":64,"y":0.766,"j":-0.12},{"g":64,"y":0.766,"j":-0.09},{"g":64,"y":0.766,"j":-0.04},{"g":64,"y":0.766,"j":-0.01},{"g":64,"y":0.766,"j":0.04},{"g":64,"y":0.766,"j":0.07},{"g":64,"y":0.766,"j":0.12},{"g":64,"y":0.766,"j":0.16},{"g":64,"y":0.766,"j":0.19},
{"g":64,"y":0.778,"j":-0.19},{"g":64,"y":0.778,"j":-0.14},{"g":64,"y":0.778,"j":-0.11},{"g":64,"y":0.778,"j":-0.07},{"g":64,"y":0.778,"j":-0.02},{"g":64,"y":0.778,"j":0.02},{"g":64,"y":0.778,"j":0.06},{"g":64,"y":0.778,"j":0.10},{"g":64,"y":0.778,"j":0.14},{"g":64,"y":0.778,"j":0.18},
{"g":64,"y":0.790,"j":-0.16},{"g":64,"y":0.790,"j":-0.13},{"g":64,"y":0.790,"j":-0.08},{"g":64,"y":0.790,"j":-0.05},{"g":64,"y":0.790,"j":0},{"g":64,"y":0.790,"j":0.03},{"g":64,"y":0.790,"j":0.08},{"g":64,"y":0.790,"j":0.11},{"g":64,"y":0.790,"j":0.15},{"g":64,"y":0.790,"j":0.19},
{"g":64,"y":0.802,"j":-0.19},{"g":64,"y":0.802,"j":-0.15},{"g":64,"y":0.802,"j":-0.10},{"g":64,"y":0.802,"j":-0.06},{"g":64,"y":0.802,"j":-0.03},{"g":64,"y":0.802,"j":0.01},{"g":64,"y":0.802,"j":0.05},{"g":64,"y":0.802,"j":0.09},{"g":64,"y":0.802,"j":0.13},{"g":64,"y":0.802,"j":0.17},
{"g":64,"y":0.814,"j":-0.17},{"g":64,"y":0.814,"j":-0.12},{"g":64,"y":0.814,"j":-0.09},{"g":64,"y":0.814,"j":-0.04},{"g":64,"y":0.814,"j":-0.01},{"g":64,"y":0.814,"j":0.04},{"g":64,"y":0.814,"j":0.07},{"g":64,"y":0.814,"j":0.12},{"g":64,"y":0.814,"j":0.16},{"g":64,"y":0.814,"j":0.20},
{"g":64,"y":0.825,"j":-0.18},{"g":64,"y":0.825,"j":-0.13},{"g":64,"y":0.825,"j":-0.06},{"g":64,"y":0.825,"j":0},{"g":64,"y":0.825,"j":0.05},{"g":64,"y":0.825,"j":0.11},{"g":64,"y":0.825,"j":0.16},
{"g":64,"y":0.836,"j":-0.15},{"g":64,"y":0.840,"j":-0.07},{"g":64,"y":0.833,"j":0.03},{"g":64,"y":0.838,"j":0.09},{"g":64,"y":0.842,"j":0.14},{"g":64,"y":0.831,"j":0.19},
{"g":64,"y":0.636,"j":-0.19},{"g":64,"y":0.633,"j":-0.13},{"g":64,"y":0.638,"j":-0.07},{"g":64,"y":0.634,"j":-0.01},{"g":64,"y":0.637,"j":0.05},{"g":64,"y":0.632,"j":0.10},{"g":64,"y":0.635,"j":0.15},{"g":64,"y":0.639,"j":0.20},
{"g":64,"y":0.624,"j":-0.17},{"g":64,"y":0.627,"j":-0.11},{"g":64,"y":0.622,"j":-0.05},{"g":64,"y":0.625,"j":0},{"g":64,"y":0.621,"j":0.06},{"g":64,"y":0.626,"j":0.12},{"g":64,"y":0.623,"j":0.18},
{"g":64,"y":0.612,"j":-0.20},{"g":64,"y":0.609,"j":-0.14},{"g":64,"y":0.614,"j":-0.09},{"g":64,"y":0.610,"j":-0.03},{"g":64,"y":0.613,"j":0.02},{"g":64,"y":0.608,"j":0.08},{"g":64,"y":0.611,"j":0.13},{"g":64,"y":0.615,"j":0.19},
{"g":64,"y":0.600,"j":-0.18},{"g":64,"y":0.603,"j":-0.12},{"g":64,"y":0.598,"j":-0.06},{"g":64,"y":0.601,"j":0.01},{"g":64,"y":0.597,"j":0.07},{"g":64,"y":0.602,"j":0.11},{"g":64,"y":0.599,"j":0.16},
{"g":64,"y":0.588,"j":-0.19},{"g":64,"y":0.585,"j":-0.15},{"g":64,"y":0.590,"j":-0.08},{"g":64,"y":0.586,"j":-0.02},{"g":64,"y":0.589,"j":0.03},{"g":64,"y":0.584,"j":0.09},{"g":64,"y":0.587,"j":0.14},{"g":64,"y":0.591,"j":0.20},
{"g":64,"y":0.576,"j":-0.17},{"g":64,"y":0.579,"j":-0.10},{"g":64,"y":0.574,"j":-0.04},{"g":64,"y":0.577,"j":0.02},{"g":64,"y":0.573,"j":0.07},{"g":64,"y":0.578,"j":0.13},{"g":64,"y":0.575,"j":0.18},
{"g":64,"y":0.564,"j":-0.19},{"g":64,"y":0.561,"j":-0.13},{"g":64,"y":0.566,"j":-0.07},{"g":64,"y":0.562,"j":-0.01},{"g":64,"y":0.565,"j":0.05},{"g":64,"y":0.560,"j":0.10},{"g":64,"y":0.563,"j":0.16},
{"g":64,"y":0.552,"j":-0.16},{"g":64,"y":0.555,"j":-0.11},{"g":64,"y":0.550,"j":-0.04},{"g":64,"y":0.553,"j":0.03},{"g":64,"y":0.549,"j":0.08},{"g":64,"y":0.554,"j":0.14},{"g":64,"y":0.551,"j":0.19},
{"g":64,"y":0.548,"j":0.12},{"g":64,"y":0.545,"j":-0.09},{"g":64,"y":0.542,"j":0.03},{"g":64,"y":0.539,"j":-0.17},{"g":64,"y":0.536,"j":0.17},{"g":64,"y":0.533,"j":-0.02},{"g":64,"y":0.530,"j":0.08},{"g":64,"y":0.527,"j":-0.13},{"g":64,"y":0.524,"j":0.15},{"g":64,"y":0.521,"j":-0.06},
{"g":64,"y":0.518,"j":0},{"g":64,"y":0.515,"j":-0.19},{"g":64,"y":0.512,"j":0.11},{"g":64,"y":0.509,"j":-0.10},{"g":64,"y":0.506,"j":0.05},{"g":64,"y":0.503,"j":0.19},{"g":64,"y":0.500,"j":-0.15},{"g":64,"y":0.497,"j":-0.03},{"g":64,"y":0.494,"j":0.09},{"g":64,"y":0.491,"j":-0.08},
{"g":64,"y":0.488,"j":0.16},{"g":64,"y":0.485,"j":0.02},{"g":64,"y":0.482,"j":-0.18},{"g":64,"y":0.479,"j":0.13},{"g":64,"y":0.476,"j":-0.05},{"g":64,"y":0.473,"j":0.07},{"g":64,"y":0.470,"j":-0.12},{"g":64,"y":0.467,"j":0.18},{"g":64,"y":0.464,"j":-0.01},{"g":64,"y":0.461,"j":-0.16},
{"g":64,"y":0.458,"j":0.10},{"g":64,"y":0.455,"j":0.04},{"g":64,"y":0.452,"j":-0.09},{"g":64,"y":0.449,"j":0.15},{"g":64,"y":0.446,"j":-0.19},{"g":64,"y":0.443,"j":0},{"g":64,"y":0.440,"j":0.12},{"g":64,"y":0.437,"j":-0.07},{"g":64,"y":0.434,"j":0.06},{"g":64,"y":0.431,"j":-0.14},
{"g":64,"y":0.428,"j":0.19},{"g":64,"y":0.425,"j":-0.03},{"g":64,"y":0.422,"j":0.09},{"g":64,"y":0.419,"j":-0.11},
{"g":64,"y":0.546,"j":-0.15},{"g":64,"y":0.538,"j":0.06},{"g":64,"y":0.530,"j":-0.05},{"g":64,"y":0.522,"j":0.18},{"g":64,"y":0.514,"j":0.02},{"g":64,"y":0.506,"j":-0.12},{"g":64,"y":0.498,"j":0.14},{"g":64,"y":0.490,"j":-0.18},{"g":64,"y":0.482,"j":0.05},{"g":64,"y":0.474,"j":-0.08},
{"g":64,"y":0.466,"j":0.13},{"g":64,"y":0.458,"j":-0.14},{"g":64,"y":0.450,"j":0.01},{"g":64,"y":0.442,"j":-0.04},{"g":64,"y":0.434,"j":0.17},{"g":64,"y":0.426,"j":-0.17},{"g":64,"y":0.553,"j":0.08},{"g":64,"y":0.551,"j":-0.04},{"g":64,"y":0.477,"j":0.19},{"g":64,"y":0.462,"j":0.07},
{"g":64,"y":0.416,"j":0.02},{"g":64,"y":0.412,"j":-0.16},{"g":64,"y":0.408,"j":0.14},{"g":64,"y":0.404,"j":-0.06},{"g":64,"y":0.400,"j":0.09},{"g":64,"y":0.396,"j":-0.19},{"g":64,"y":0.392,"j":0.17},{"g":64,"y":0.388,"j":-0.02},{"g":64,"y":0.384,"j":0.06},{"g":64,"y":0.380,"j":-0.12},
{"g":64,"y":0.376,"j":0.19},{"g":64,"y":0.372,"j":-0.08},{"g":64,"y":0.368,"j":0.03},{"g":64,"y":0.364,"j":-0.15},{"g":64,"y":0.360,"j":0.12},{"g":64,"y":0.356,"j":-0.04},{"g":64,"y":0.352,"j":0.08},{"g":64,"y":0.348,"j":-0.18},{"g":64,"y":0.344,"j":0.16},{"g":64,"y":0.340,"j":0},
{"g":64,"y":0.336,"j":-0.10},{"g":64,"y":0.332,"j":0.11},{"g":64,"y":0.328,"j":-0.14},{"g":64,"y":0.324,"j":0.05},{"g":64,"y":0.320,"j":-0.01},{"g":64,"y":0.316,"j":0.18},{"g":64,"y":0.312,"j":-0.17},{"g":64,"y":0.308,"j":0.07},{"g":64,"y":0.304,"j":-0.07},{"g":64,"y":0.300,"j":0.13},
{"g":64,"y":0.296,"j":-0.12},{"g":64,"y":0.292,"j":0.02},{"g":64,"y":0.288,"j":0.19},{"g":64,"y":0.284,"j":-0.05},{"g":64,"y":0.280,"j":0.10},{"g":64,"y":0.276,"j":-0.19},{"g":64,"y":0.272,"j":0.04},{"g":64,"y":0.268,"j":-0.09},{"g":64,"y":0.264,"j":0.15},{"g":64,"y":0.260,"j":-0.02},
{"g":64,"y":0.256,"j":-0.15},{"g":64,"y":0.252,"j":0.09},{"g":64,"y":0.248,"j":0.17},{"g":64,"y":0.244,"j":-0.11},{"g":64,"y":0.240,"j":0.01},{"g":64,"y":0.236,"j":0.12},{"g":64,"y":0.232,"j":-0.06},{"g":64,"y":0.228,"j":-0.17},{"g":64,"y":0.224,"j":0.07},{"g":64,"y":0.220,"j":-0.03},
{"g":64,"y":0.216,"j":0.16},{"g":64,"y":0.212,"j":-0.13},{"g":64,"y":0.208,"j":0.05},{"g":64,"y":0.204,"j":-0.08},
{"g":64,"y":0.199,"j":0.11},{"g":64,"y":0.193,"j":-0.14},{"g":64,"y":0.187,"j":0.04},{"g":64,"y":0.181,"j":-0.07},{"g":64,"y":0.175,"j":0.16},{"g":64,"y":0.169,"j":-0.18},{"g":64,"y":0.163,"j":0.08},{"g":64,"y":0.157,"j":-0.02},{"g":64,"y":0.151,"j":0.14},{"g":64,"y":0.145,"j":-0.11},
{"g":64,"y":0.139,"j":0.01},{"g":64,"y":0.133,"j":0.19},{"g":64,"y":0.127,"j":-0.16},{"g":64,"y":0.121,"j":0.06},{"g":64,"y":0.115,"j":-0.05},{"g":64,"y":0.109,"j":0.12},{"g":64,"y":0.103,"j":-0.19},{"g":64,"y":0.097,"j":0.03},{"g":64,"y":0.091,"j":-0.09},{"g":64,"y":0.085,"j":0.17},
{"g":64,"y":0.079,"j":-0.13},{"g":64,"y":0.073,"j":0.09},{"g":64,"y":0.067,"j":-0.01},{"g":64,"y":0.061,"j":0.15},{"g":64,"y":0.055,"j":-0.17},{"g":64,"y":0.049,"j":0.05},{"g":64,"y":0.043,"j":-0.06},{"g":64,"y":0.037,"j":0.18},{"g":64,"y":0.031,"j":-0.12},{"g":64,"y":0.027,"j":0.02},
{"g":64,"y":0.023,"j":0.13},{"g":64,"y":0.019,"j":-0.19},{"g":64,"y":0.015,"j":0.08},{"g":64,"y":0.011,"j":-0.03},{"g":64,"y":0.008,"j":0.16},{"g":64,"y":0.005,"j":-0.10},{"g":64,"y":0.003,"j":0},{"g":64,"y":0.002,"j":-0.15},
{"g":64,"y":0,"j":-0.20},{"g":64,"y":0,"j":-0.18},{"g":64,"y":0,"j":-0.16},{"g":64,"y":0,"j":-0.14},{"g":64,"y":0,"j":-0.12},{"g":64,"y":0,"j":-0.10},{"g":64,"y":0,"j":-0.08},{"g":64,"y":0,"j":-0.06},{"g":64,"y":0,"j":-0.04},{"g":64,"y":0,"j":-0.02},{"g":64,"y":0,"j":0},
{"g":64,"y":0,"j":0.02},{"g":64,"y":0,"j":0.04},{"g":64,"y":0,"j":0.06},{"g":64,"y":0,"j":0.08},{"g":64,"y":0,"j":0.10},{"g":64,"y":0,"j":0.12},{"g":64,"y":0,"j":0.14},{"g":64,"y":0,"j":0.16},{"g":64,"y":0,"j":0.18},{"g":64,"y":0,"j":0.20}
]
},
"encoding":{
"x":{"field":"g","type":"ordinal","scale":{"domain":[32,48,64],"range":[0,652],"paddingInner":0,"paddingOuter":0.13,"align":0.404},
"axis":{"title":"Antall filtre","labelAngle":0,"tickSize":5,"labelPadding":3,"titlePadding":20,"titleFontSize":22,"titleX":321}}
},
"layer":[
{"data":{"name":"box"},"mark":{"type":"rule","color":"#444","strokeWidth":1.2},
"encoding":{"y":{"field":"lo","type":"quantitative","title":"Dice-score","scale":{"domain":[-0.0315,0.885],"nice":false,"zero":false}},"y2":{"field":"q1"}}},
{"data":{"name":"box"},"mark":{"type":"rule","color":"#444","strokeWidth":1.2},
"encoding":{"y":{"field":"q3","type":"quantitative","title":"Dice-score","scale":{"domain":[-0.0315,0.885],"nice":false,"zero":false}},"y2":{"field":"hi"}}},
{"data":{"name":"box"},"mark":{"type":"bar","width":142,"fill":"white","stroke":"#444","strokeWidth":1.2},
"encoding":{"y":{"field":"q1","type":"quantitative","title":"Dice-score","scale":{"domain":[-0.0315,0.885],"nice":false,"zero":false}},"y2":{"field":"q3"}}},
{"data":{"name":"box"},"mark":{"type":"tick","size":142,"thickness":2,"color":"#333","opacity":1},
"encoding":{"y":{"field":"med","type":"quantitative","title":"Dice-score","scale":{"domain":[-0.0315,0.885],"nice":false,"zero":false}}}},
{"data":{"name":"pts"},"mark":{"type":"circle","size":64,"color":"black","opacity":1},
"encoding":{
"y":{"field":"y","type":"quantitative","title":"Dice-score","scale":{"domain":[-0.0315,0.885],"nice":false,"zero":false},
"axis":{"values":[0,0.2,0.4,0.6,0.8],"format":".1f","tickSize":6,"labelPadding":4,"titleFontSize":19,"titleX":-68,"titleY":213,"titleAngle":-90,"titleBaseline":"middle","titleAlign":"center"}},
"xOffset":{"field":"j","type":"quantitative","scale":{"domain":[-0.5,0.5]}}
}}
],
"config":{
"view":{"stroke":null},
"axis":{"grid":false,"domainColor":"#555","domainWidth":1.5,"tickColor":"#555","tickWidth":1.5,"labelColor":"#4d4d4d","labelFont":"DejaVu Sans","labelFontSize":20,"titleFont":"Lato","titleColor":"#000","titleFontWeight":"normal"}
}
}
